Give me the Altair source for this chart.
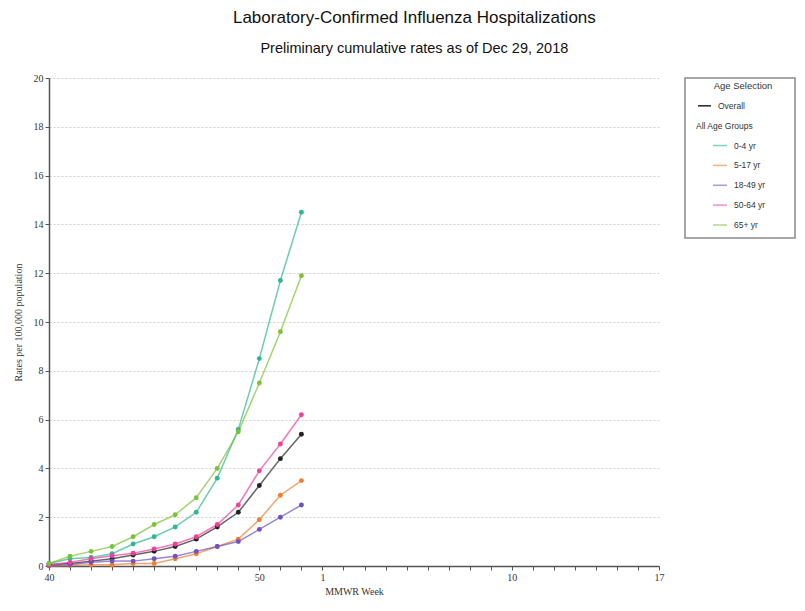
import altair as alt
import pandas as pd

# ---- data ----
axis_weeks = [str(w) for w in list(range(40, 53)) + list(range(1, 18))]
label_weeks = ["40", "50", "1", "10", "17"]
data_weeks = [str(w) for w in range(40, 53)]

series = ["Overall", "0-4 yr", "5-17 yr", "18-49 yr", "50-64 yr", "65+ yr"]
colors = ["#222222", "#2fb592", "#f07e2e", "#6e52c2", "#f0409a", "#7cc236"]

overall = [0.05, 0.1, 0.2, 0.3, 0.45, 0.6, 0.8, 1.1, 1.6, 2.2, 3.3, 4.4, 5.4]
age_0_4 = [0.1, 0.3, 0.35, 0.5, 0.9, 1.2, 1.6, 2.2, 3.6, 5.6, 8.5, 11.7, 14.5]
age_5_17 = [0.0, 0.02, 0.05, 0.05, 0.1, 0.1, 0.3, 0.5, 0.8, 1.1, 1.9, 2.9, 3.5]
age_18_49 = [0.02, 0.05, 0.15, 0.2, 0.2, 0.3, 0.4, 0.6, 0.8, 1.0, 1.5, 2.0, 2.5]
age_50_64 = [0.05, 0.15, 0.3, 0.42, 0.52, 0.7, 0.9, 1.2, 1.7, 2.5, 3.9, 5.0, 6.2]
age_65 = [0.1, 0.4, 0.6, 0.8, 1.2, 1.7, 2.1, 2.8, 4.0, 5.5, 7.5, 9.6, 11.9]

legend_rows = ["Age Selection", "Overall", "All Age Groups",
               "0-4 yr", "5-17 yr", "18-49 yr", "50-64 yr", "65+ yr"]
legend_kind = ["title", "overall", "header",
               "group", "group", "group", "group", "group"]

# ---- tables ----
rows = []
for name, vals in zip(series, [overall, age_0_4, age_5_17, age_18_49, age_50_64, age_65]):
    for w, v in zip(data_weeks, vals):
        rows.append({"week": w, "series": name, "rate": v})
df = pd.DataFrame(rows)
leg_df = pd.DataFrame({"row": legend_rows, "kind": legend_kind})

color_scale = alt.Scale(domain=series, range=colors)
label_test = " || ".join("datum.label == '%s'" % w for w in label_weeks)

x_enc = alt.X(
    "week:O",
    scale=alt.Scale(type="point", domain=axis_weeks, padding=0),
    axis=alt.Axis(
        title="MMWR Week", labelAngle=0, labelOverlap=False,
        labelExpr="(%s) ? datum.label : ''" % label_test,
        tickSize=4, labelPadding=2, titlePadding=4, grid=False,
    ),
)
y_enc = alt.Y(
    "rate:Q",
    scale=alt.Scale(domain=[0, 20], nice=False),
    axis=alt.Axis(
        title="Rates per 100,000 population", values=list(range(0, 21, 2)),
        tickSize=4, labelPadding=2, titlePadding=10, grid=True,
        gridColor="#c9d1da", gridDash=[2, 2], gridWidth=1,
    ),
)
col = alt.Color("series:N", scale=color_scale, legend=None)

base = alt.Chart(df).encode(x=x_enc, y=y_enc, color=col, detail="series:N")
lines = base.mark_line(strokeWidth=1.5, opacity=0.7)
points = base.mark_circle(size=24, opacity=1)
main = alt.layer(lines, points).properties(width=610, height=488)

# ---- legend panel ----
leg_y = alt.Y("row:O", scale=alt.Scale(type="point", domain=legend_rows, padding=0.528, align=0.38),
              axis=None)
leg_base = alt.Chart(leg_df)
leg_title = leg_base.transform_filter("datum.kind == 'title'").mark_text(
    align="center", baseline="middle", fontSize=9.5, font="Liberation Sans", color="#333"
).encode(y=leg_y, x=alt.value(58), text="row:N")
leg_header = leg_base.transform_filter("datum.kind == 'header'").mark_text(
    align="left", baseline="middle", fontSize=8.5, font="Liberation Sans", color="#333"
).encode(y=leg_y, x=alt.value(11), text="row:N")
leg_overall_line = leg_base.transform_filter("datum.kind == 'overall'").mark_rule(
    strokeWidth=1.5
).encode(y=leg_y, x=alt.value(13), x2=alt.value(26),
         color=alt.Color("row:N", scale=color_scale, legend=None))
leg_overall_text = leg_base.transform_filter("datum.kind == 'overall'").mark_text(
    align="left", baseline="middle", fontSize=8.5, font="Liberation Sans", color="#333"
).encode(y=leg_y, x=alt.value(33), text="row:N")
leg_group_line = leg_base.transform_filter("datum.kind == 'group'").mark_rule(
    strokeWidth=1.5, opacity=0.6
).encode(y=leg_y, x=alt.value(28), x2=alt.value(42),
         color=alt.Color("row:N", scale=color_scale, legend=None))
leg_group_text = leg_base.transform_filter("datum.kind == 'group'").mark_text(
    align="left", baseline="middle", fontSize=8.5, font="Liberation Sans", color="#333"
).encode(y=leg_y, x=alt.value(49), text="row:N")

legend_panel = alt.layer(
    leg_title, leg_header, leg_overall_line, leg_overall_text, leg_group_line, leg_group_text
).properties(
    width=110, height=160,
    view=alt.ViewBackground(stroke="#8a8a8a", strokeWidth=1.5, strokeOpacity=1),
)

chart = alt.hconcat(main, legend_panel, spacing=20).properties(
    title=alt.TitleParams(
        text="Laboratory-Confirmed Influenza Hospitalizations",
        subtitle="Preliminary cumulative rates as of Dec 29, 2018",
        anchor="middle", font="Liberation Sans", fontSize=17, fontWeight="normal",
        color="#111", subtitleFont="Liberation Sans", subtitleFontSize=14.5,
        subtitleColor="#111", subtitlePadding=15, offset=17, dx=10,
    ),
    padding={"left": 5, "top": 0, "right": 0, "bottom": 0},
).configure_view(strokeOpacity=0).configure_axis(
    labelFont="Liberation Serif", titleFont="Liberation Serif", labelFontSize=10,
    titleFontSize=10, titleFontWeight="normal", labelColor="#333", titleColor="#333",
    domainColor="#555", domainWidth=1.5, tickColor="#555",
)

chart.save("out.html", embed_options={"renderer": "svg", "actions": False})
